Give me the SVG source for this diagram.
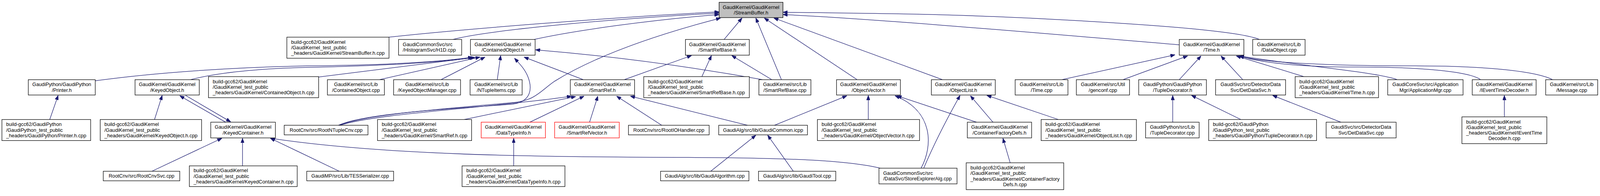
<svg xmlns="http://www.w3.org/2000/svg" width="4183" height="501" viewBox="0 0 4183 501">
<style>
rect{fill:#fff;stroke:#000;stroke-width:1.3}
rect.root{fill:#bfbfbf}
rect.red{stroke:#ff0000}
text{font-family:"Liberation Sans",Arial,Helvetica,sans-serif;font-size:13px;fill:#000}
.c{text-anchor:middle}
#edges path{fill:none;stroke:#191970;stroke-width:1.3;marker-end:url(#ah)}
</style>
<defs>
<marker id="ah" viewBox="0 0 12 9" refX="12" refY="4.5" markerWidth="12" markerHeight="9" markerUnits="userSpaceOnUse" orient="auto">
<path d="M0,0 L12,4.5 L0,9 z" fill="#191970" stroke="#191970" stroke-width="1"/>
</marker>
</defs>
<rect x="0" y="0" width="4183" height="501" style="fill:#fff;stroke:none"/>
<g id="graph" transform="scale(0.9792)">
<g id="edges">
<path d="M1017,97 C1200,77 1600,45 1880,31"/>
<path d="M1184,103 C1250,85 1500,55 1880,34"/>
<path d="M1396,103 C1500,80 1700,52 1880,38"/>
<path d="M1893,103 L1940,47"/>
<path d="M2043,208 L1976,47"/>
<path d="M2241,208 L1998,47"/>
<path d="M2464,208 L2023,47"/>
<path d="M3083,117 C2700,85 2300,50 2047,38"/>
<path d="M3293,103 C3250,85 3100,70 2800,53 S2300,35 2047,32"/>
<path d="M887,327 C950,300 1150,285 1340,268 C1400,262 1410,240 1450,212 C1550,150 1700,95 1884,47"/>
<path d="M885,327 C950,298 1150,285 1340,272 C1390,265 1392,230 1380,200 C1372,180 1358,166 1345,152"/>
<path d="M889,327 C980,296 1300,280 1494,251"/>
<path d="M1213,312 L1505,252"/>
<path d="M1383,320 L1527,251"/>
<path d="M1541,320 L1563,251"/>
<path d="M1730,327 L1612,251"/>
<path d="M1954,327 L1648,251"/>
<path d="M2025,327 L2214,250"/>
<path d="M1858,447 L1976,353"/>
<path d="M2074,447 L2007,353"/>
<path d="M1343,433 L1343,361"/>
<path d="M1525,208 L1370,149"/>
<path d="M1994,208 Q1700,155 1400,130"/>
<path d="M1632,208 L1808,145"/>
<path d="M1835,200 L1860,145"/>
<path d="M2018,208 L1913,145"/>
<path d="M249,211 C400,190 600,176 800,172 C1000,170 1150,162 1236,149"/>
<path d="M498,208 C560,192 650,180 800,176 C1000,172 1150,163 1240,150"/>
<path d="M833,201 L1242,150"/>
<path d="M992,208 L1255,149"/>
<path d="M1153,208 L1268,149"/>
<path d="M1300,208 L1309,145"/>
<path d="M404,312 L424,249"/>
<path d="M590,319 L470,250"/>
<path d="M485,249 L603,318"/>
<path d="M130,312 L152,249"/>
<path d="M397,447 L580,361"/>
<path d="M634,433 L634,361"/>
<path d="M887,447 L707,361"/>
<path d="M2305,440 C2220,418 2050,412 1800,411 C1400,410 1000,405 707,361"/>
<path d="M2408,439 C2440,380 2440,290 2340,250"/>
<path d="M2415,439 C2440,380 2470,320 2510,249"/>
<path d="M2553,319 L2345,250"/>
<path d="M2596,319 L2537,250"/>
<path d="M2767,312 L2580,249"/>
<path d="M2270,312 L2270,249"/>
<path d="M2641,425 L2622,361"/>
<path d="M2776,208 L3072,143"/>
<path d="M2936,208 L3105,146"/>
<path d="M3083,208 L3140,146"/>
<path d="M3249,208 L3192,146"/>
<path d="M3409,200 L3232,146"/>
<path d="M3653,208 C3600,188 3400,172 3240,146"/>
<path d="M3871,208 C3840,185 3700,175 3550,175 C3400,175 3300,165 3240,146"/>
<path d="M4059,208 C4020,188 3900,172 3700,172 C3500,172 3300,165 3240,146"/>
<path d="M3933,305 L3933,249"/>
<path d="M3066,319 L3066,249"/>
<path d="M3244,312 L3115,249"/>
<path d="M3508,320 L3327,249"/>
</g>
<g id="n_root"><rect class="root" x="1880" y="6" width="167" height="40"/><text class="c" x="1963.5" y="23">GaudiKernel/GaudiKernel</text><text class="c" x="1963.5" y="37.5">/StreamBuffer.h</text></g>
<g id="n_sbhcpp"><rect x="750" y="97" width="267" height="55"/><text x="761" y="114.25">build-gcc62/GaudiKernel</text><text x="761" y="128.75">/GaudiKernel_test_public</text><text x="761" y="143.25">_headers/GaudiKernel/StreamBuffer.h.cpp</text></g>
<g id="n_h1d"><rect x="1042" y="103" width="165" height="41"/><text x="1053" y="120.5">GaudiCommonSvc/src</text><text x="1053" y="135">/HistogramSvc/H1D.cpp</text></g>
<g id="n_cobjh"><rect x="1230" y="103" width="169" height="41"/><text class="c" x="1314.5" y="120.5">GaudiKernel/GaudiKernel</text><text class="c" x="1314.5" y="135">/ContainedObject.h</text></g>
<g id="n_srbaseh"><rect x="1792" y="103" width="167" height="41"/><text class="c" x="1875.5" y="120.5">GaudiKernel/GaudiKernel</text><text class="c" x="1875.5" y="135">/SmartRefBase.h</text></g>
<g id="n_timeh"><rect x="3083" y="103" width="169" height="41"/><text class="c" x="3167.5" y="120.5">GaudiKernel/GaudiKernel</text><text class="c" x="3167.5" y="135">/Time.h</text></g>
<g id="n_dataobj"><rect x="3275" y="103" width="137" height="41"/><text class="c" x="3343.5" y="120.5">GaudiKernel/src/Lib</text><text class="c" x="3343.5" y="135">/DataObject.cpp</text></g>
<g id="n_printerh"><rect x="74" y="208" width="175" height="40"/><text class="c" x="161.5" y="225">GaudiPython/GaudiPython</text><text class="c" x="161.5" y="239.5">/Printer.h</text></g>
<g id="n_keyedobjh"><rect x="353" y="208" width="168" height="40"/><text class="c" x="437" y="225">GaudiKernel/GaudiKernel</text><text class="c" x="437" y="239.5">/KeyedObject.h</text></g>
<g id="n_cobjhcpp"><rect x="545" y="200" width="288" height="55"/><text x="556" y="217.25">build-gcc62/GaudiKernel</text><text x="556" y="231.75">/GaudiKernel_test_public</text><text x="556" y="246.25">_headers/GaudiKernel/ContainedObject.h.cpp</text></g>
<g id="n_cobjcpp"><rect x="856" y="208" width="149" height="40"/><text class="c" x="930.5" y="225">GaudiKernel/src/Lib</text><text class="c" x="930.5" y="239.5">/ContainedObject.cpp</text></g>
<g id="n_kom"><rect x="1029" y="208" width="175" height="40"/><text class="c" x="1116.5" y="225">GaudiKernel/src/Lib</text><text class="c" x="1116.5" y="239.5">/KeyedObjectManager.cpp</text></g>
<g id="n_ntuple"><rect x="1229" y="208" width="136" height="40"/><text class="c" x="1297" y="225">GaudiKernel/src/Lib</text><text class="c" x="1297" y="239.5">/NTupleItems.cpp</text></g>
<g id="n_smartrefh"><rect x="1491" y="208" width="168" height="40"/><text class="c" x="1575" y="225">GaudiKernel/GaudiKernel</text><text class="c" x="1575" y="239.5">/SmartRef.h</text></g>
<g id="n_srbasehcpp"><rect x="1683" y="200" width="276" height="55"/><text x="1694" y="217.25">build-gcc62/GaudiKernel</text><text x="1694" y="231.75">/GaudiKernel_test_public</text><text x="1694" y="246.25">_headers/GaudiKernel/SmartRefBase.h.cpp</text></g>
<g id="n_srbasecpp"><rect x="1984" y="208" width="136" height="40"/><text class="c" x="2052" y="225">GaudiKernel/src/Lib</text><text class="c" x="2052" y="239.5">/SmartRefBase.cpp</text></g>
<g id="n_objvech"><rect x="2187" y="208" width="167" height="40"/><text class="c" x="2270.5" y="225">GaudiKernel/GaudiKernel</text><text class="c" x="2270.5" y="239.5">/ObjectVector.h</text></g>
<g id="n_objlisth"><rect x="2435" y="208" width="167" height="40"/><text class="c" x="2518.5" y="225">GaudiKernel/GaudiKernel</text><text class="c" x="2518.5" y="239.5">/ObjectList.h</text></g>
<g id="n_timecpp"><rect x="2654" y="208" width="138" height="40"/><text class="c" x="2723" y="225">GaudiKernel/src/Lib</text><text class="c" x="2723" y="239.5">/Time.cpp</text></g>
<g id="n_genconf"><rect x="2814" y="208" width="139" height="40"/><text class="c" x="2883.5" y="225">GaudiKernel/src/Util</text><text class="c" x="2883.5" y="239.5">/genconf.cpp</text></g>
<g id="n_tupledech"><rect x="2977" y="208" width="177" height="40"/><text class="c" x="3065.5" y="225">GaudiPython/GaudiPython</text><text class="c" x="3065.5" y="239.5">/TupleDecorator.h</text></g>
<g id="n_detdatah"><rect x="3178" y="208" width="183" height="40"/><text class="c" x="3269.5" y="225">GaudiSvc/src/DetectorData</text><text class="c" x="3269.5" y="239.5">Svc/DetDataSvc.h</text></g>
<g id="n_timehcpp"><rect x="3386" y="200" width="218" height="55"/><text x="3397" y="217.25">build-gcc62/GaudiKernel</text><text x="3397" y="231.75">/GaudiKernel_test_public</text><text x="3397" y="246.25">_headers/GaudiKernel/Time.h.cpp</text></g>
<g id="n_appmgr"><rect x="3628" y="208" width="197" height="40"/><text class="c" x="3726.5" y="225">GaudiCoreSvc/src/Application</text><text class="c" x="3726.5" y="239.5">Mgr/ApplicationMgr.cpp</text></g>
<g id="n_ietdh"><rect x="3849" y="208" width="167" height="40"/><text class="c" x="3932.5" y="225">GaudiKernel/GaudiKernel</text><text class="c" x="3932.5" y="239.5">/IEventTimeDecoder.h</text></g>
<g id="n_message"><rect x="4041" y="208" width="136" height="40"/><text class="c" x="4109" y="225">GaudiKernel/src/Lib</text><text class="c" x="4109" y="239.5">/Message.cpp</text></g>
<g id="n_printerhcpp"><rect x="5" y="312" width="232" height="55"/><text x="16" y="329.25">build-gcc62/GaudiPython</text><text x="16" y="343.75">/GaudiPython_test_public</text><text x="16" y="358.25">_headers/GaudiPython/Printer.h.cpp</text></g>
<g id="n_keyedobjhcpp"><rect x="262" y="312" width="265" height="55"/><text x="273" y="329.25">build-gcc62/GaudiKernel</text><text x="273" y="343.75">/GaudiKernel_test_public</text><text x="273" y="358.25">_headers/GaudiKernel/KeyedObject.h.cpp</text></g>
<g id="n_keyedconth"><rect x="551" y="319" width="169" height="41"/><text class="c" x="635.5" y="336.5">GaudiKernel/GaudiKernel</text><text class="c" x="635.5" y="351">/KeyedContainer.h</text></g>
<g id="n_rootntuple"><rect x="743" y="327" width="219" height="25"/><text class="c" x="852.5" y="343.75">RootCnv/src/RootNTupleCnv.cpp</text></g>
<g id="n_smartrefhcpp"><rect x="987" y="312" width="246" height="55"/><text x="998" y="329.25">build-gcc62/GaudiKernel</text><text x="998" y="343.75">/GaudiKernel_test_public</text><text x="998" y="358.25">_headers/GaudiKernel/SmartRef.h.cpp</text></g>
<g id="n_datatypeh"><rect class="red" x="1258" y="319" width="168" height="41"/><text class="c" x="1342" y="336.5">GaudiKernel/GaudiKernel</text><text class="c" x="1342" y="351">/DataTypeInfo.h</text></g>
<g id="n_srvech"><rect class="red" x="1450" y="319" width="169" height="41"/><text class="c" x="1534.5" y="336.5">GaudiKernel/GaudiKernel</text><text class="c" x="1534.5" y="351">/SmartRefVector.h</text></g>
<g id="n_rootio"><rect x="1643" y="327" width="211" height="25"/><text class="c" x="1748.5" y="343.75">RootCnv/src/RootIOHandler.cpp</text></g>
<g id="n_gcommon"><rect x="1879" y="327" width="232" height="25"/><text class="c" x="1995" y="343.75">GaudiAlg/src/lib/GaudiCommon.icpp</text></g>
<g id="n_objvechcpp"><rect x="2137" y="312" width="267" height="55"/><text x="2148" y="329.25">build-gcc62/GaudiKernel</text><text x="2148" y="343.75">/GaudiKernel_test_public</text><text x="2148" y="358.25">_headers/GaudiKernel/ObjectVector.h.cpp</text></g>
<g id="n_cfdh"><rect x="2529" y="319" width="168" height="41"/><text class="c" x="2613" y="336.5">GaudiKernel/GaudiKernel</text><text class="c" x="2613" y="351">/ContainerFactoryDefs.h</text></g>
<g id="n_objlisthcpp"><rect x="2722" y="312" width="249" height="55"/><text x="2733" y="329.25">build-gcc62/GaudiKernel</text><text x="2733" y="343.75">/GaudiKernel_test_public</text><text x="2733" y="358.25">_headers/GaudiKernel/ObjectList.h.cpp</text></g>
<g id="n_tupledeccpp"><rect x="2995" y="319" width="140" height="41"/><text class="c" x="3065" y="336.5">GaudiPython/src/Lib</text><text class="c" x="3065" y="351">/TupleDecorator.cpp</text></g>
<g id="n_tupledechcpp"><rect x="3160" y="312" width="282" height="55"/><text x="3171" y="329.25">build-gcc62/GaudiPython</text><text x="3171" y="343.75">/GaudiPython_test_public</text><text x="3171" y="358.25">_headers/GaudiPython/TupleDecorator.h.cpp</text></g>
<g id="n_detdatacpp"><rect x="3467" y="319" width="183" height="41"/><text class="c" x="3558.5" y="336.5">GaudiSvc/src/DetectorData</text><text class="c" x="3558.5" y="351">Svc/DetDataSvc.cpp</text></g>
<g id="n_ietdhcpp"><rect x="3822" y="305" width="222" height="70"/><text x="3833" y="322.5">build-gcc62/GaudiKernel</text><text x="3833" y="337">/GaudiKernel_test_public</text><text x="3833" y="351.5">_headers/GaudiKernel/IEventTime</text><text class="c" x="3933" y="366">Decoder.h.cpp</text></g>
<g id="n_rootcnvsvc"><rect x="270" y="447" width="200" height="25"/><text class="c" x="370" y="463.75">RootCnv/src/RootCnvSvc.cpp</text></g>
<g id="n_keyedconthcpp"><rect x="495" y="433" width="282" height="54"/><text x="506" y="449.75">build-gcc62/GaudiKernel</text><text x="506" y="464.25">/GaudiKernel_test_public</text><text x="506" y="478.75">_headers/GaudiKernel/KeyedContainer.h.cpp</text></g>
<g id="n_tesser"><rect x="802" y="447" width="227" height="25"/><text class="c" x="915.5" y="463.75">GaudiMP/src/Lib/TESSerializer.cpp</text></g>
<g id="n_datatypehcpp"><rect x="1208" y="433" width="269" height="54"/><text x="1219" y="449.75">build-gcc62/GaudiKernel</text><text x="1219" y="464.25">/GaudiKernel_test_public</text><text x="1219" y="478.75">_headers/GaudiKernel/DataTypeInfo.h.cpp</text></g>
<g id="n_galgo"><rect x="1727" y="447" width="231" height="25"/><text class="c" x="1842.5" y="463.75">GaudiAlg/src/lib/GaudiAlgorithm.cpp</text></g>
<g id="n_gtool"><rect x="1983" y="447" width="202" height="25"/><text class="c" x="2084" y="463.75">GaudiAlg/src/lib/GaudiTool.cpp</text></g>
<g id="n_storeexp"><rect x="2298" y="439" width="204" height="41"/><text x="2309" y="456.5">GaudiCommonSvc/src</text><text x="2309" y="471">/DataSvc/StoreExplorerAlg.cpp</text></g>
<g id="n_cfdhcpp"><rect x="2526" y="425" width="255" height="70"/><text x="2537" y="442.5">build-gcc62/GaudiKernel</text><text x="2537" y="457">/GaudiKernel_test_public</text><text x="2537" y="471.5">_headers/GaudiKernel/ContainerFactory</text><text class="c" x="2653.5" y="486">Defs.h.cpp</text></g>
</g>
</svg>
